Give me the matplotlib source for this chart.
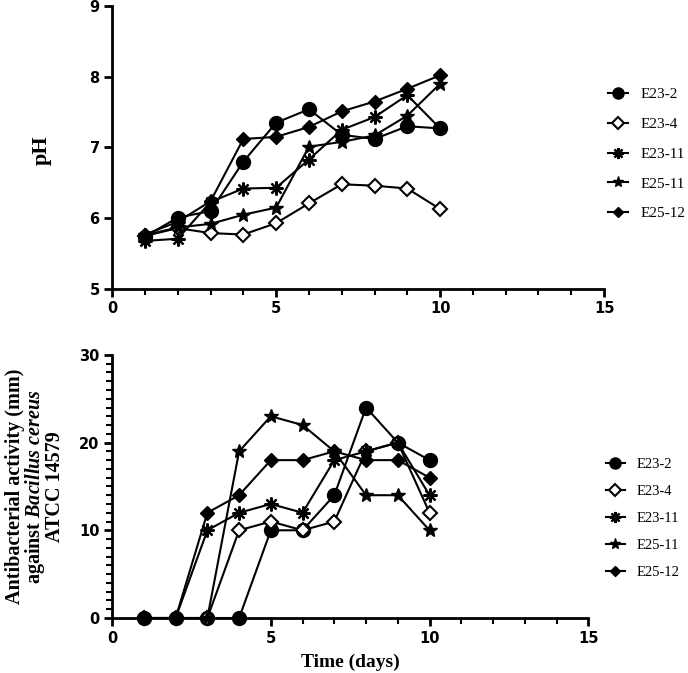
import matplotlib.pyplot as plt
from matplotlib.ticker import MultipleLocator

plt.rcParams['mathtext.fontset'] = 'custom'
plt.rcParams['mathtext.it'] = 'Liberation Serif:bold:italic'
plt.rcParams['mathtext.rm'] = 'Liberation Serif:bold'

# data
days = [1, 2, 3, 4, 5, 6, 7, 8, 9, 10]
strains = ['E23-2', 'E23-4', 'E23-11', 'E25-11', 'E25-12']

ph_e23_2 = [5.74, 6.01, 6.10, 6.80, 7.35, 7.54, 7.18, 7.12, 7.30, 7.27]
ph_e23_4 = [5.75, 5.86, 5.79, 5.77, 5.93, 6.21, 6.48, 6.46, 6.42, 6.13]
ph_e23_11 = [5.68, 5.71, 6.23, 6.42, 6.43, 6.83, 7.25, 7.43, 7.74, 7.27]
ph_e25_11 = [5.76, 5.87, 5.92, 6.05, 6.15, 7.01, 7.08, 7.17, 7.45, 7.90]
ph_e25_12 = [5.77, 5.95, 6.24, 7.12, 7.15, 7.29, 7.51, 7.65, 7.83, 8.02]

act_e23_2 = [0, 0, 0, 0, 10, 10, 14, 24, 20, 18]
act_e23_4 = [0, 0, 0, 10, 11, 10, 11, 19, 20, 12]
act_e23_11 = [0, 0, 10, 12, 13, 12, 18, 19, 20, 14]
act_e25_11 = [0, 0, 0, 19, 23, 22, 19, 14, 14, 10]
act_e25_12 = [0, 0, 12, 14, 18, 18, 19, 18, 18, 16]

ph_series = [ph_e23_2, ph_e23_4, ph_e23_11, ph_e25_11, ph_e25_12]
act_series = [act_e23_2, act_e23_4, act_e23_11, act_e25_11, act_e25_12]

# marker styles per strain
styles = [
    dict(marker='o', markersize=10, markerfacecolor='black'),
    dict(marker='D', markersize=7.5, markerfacecolor='white', markeredgewidth=1.5),
    dict(marker=(8, 2, 0), markersize=10, markeredgewidth=1.6),
    dict(marker='*', markersize=10, markerfacecolor='black'),
    dict(marker='D', markersize=7, markerfacecolor='black'),
]

fig = plt.figure(figsize=(6.88, 6.73), dpi=100)
ax1 = fig.add_axes([0.163, 0.5706, 0.715, 0.4205])
ax2 = fig.add_axes([0.163, 0.0817, 0.692, 0.391])


def style_axes(ax):
    ax.spines['top'].set_visible(False)
    ax.spines['right'].set_visible(False)
    ax.spines['left'].set_linewidth(2)
    ax.spines['bottom'].set_linewidth(2)
    ax.tick_params(which='major', direction='out', length=6, width=2, pad=3)
    ax.tick_params(which='minor', direction='out', length=4, width=1.5)
    for lab in ax.get_xticklabels() + ax.get_yticklabels():
        lab.set_fontfamily('DejaVu Sans')
        lab.set_fontweight('bold')
        lab.set_fontsize(10.5)


legend_opts = dict(loc='center left', frameon=False, handlelength=1.3,
                   handletextpad=0.8, markerscale=0.8, borderaxespad=0)

# pH panel
for name, vals, st in zip(strains, ph_series, styles):
    ax1.plot(days, vals, color='black', linewidth=1.5, markeredgecolor='black',
             label=name, clip_on=False, **st)
ax1.set_xlim(0, 15)
ax1.set_ylim(5, 9)
ax1.xaxis.set_major_locator(MultipleLocator(5))
ax1.xaxis.set_minor_locator(MultipleLocator(1))
ax1.yaxis.set_major_locator(MultipleLocator(1))
style_axes(ax1)
ax1.set_ylabel('pH', family='Liberation Serif', weight='bold', size=16)
ax1.yaxis.set_label_coords(-0.122, 0.49)
fig.legend(*ax1.get_legend_handles_labels(), bbox_to_anchor=(0.875, 0.771),
           labelspacing=1.05, prop=dict(family='Liberation Serif', size=11),
           **legend_opts)

# antibacterial activity panel
for name, vals, st in zip(strains, act_series, styles):
    ax2.plot(days, vals, color='black', linewidth=1.5, markeredgecolor='black',
             label=name, clip_on=False, **st)
ax2.set_xlim(0, 15)
ax2.set_ylim(0, 30)
ax2.xaxis.set_major_locator(MultipleLocator(5))
ax2.xaxis.set_minor_locator(MultipleLocator(1))
ax2.yaxis.set_major_locator(MultipleLocator(10))
ax2.yaxis.set_minor_locator(MultipleLocator(1))
style_axes(ax2)
ax2.set_xlabel('Time (days)', family='Liberation Serif', weight='bold', size=14, labelpad=6)
ax2.set_ylabel('Antibacterial activity (mm)\nagainst $Bacillus\\ cereus$\nATCC 14579',
               family='Liberation Serif', weight='bold', size=14.5, linespacing=0.9)
ax2.yaxis.set_label_coords(-0.098, 0.5)
fig.legend(*ax2.get_legend_handles_labels(), bbox_to_anchor=(0.872, 0.23),
           labelspacing=0.95, prop=dict(family='Liberation Serif', size=10.5),
           **legend_opts)

fig.savefig('out.png', dpi=100)
